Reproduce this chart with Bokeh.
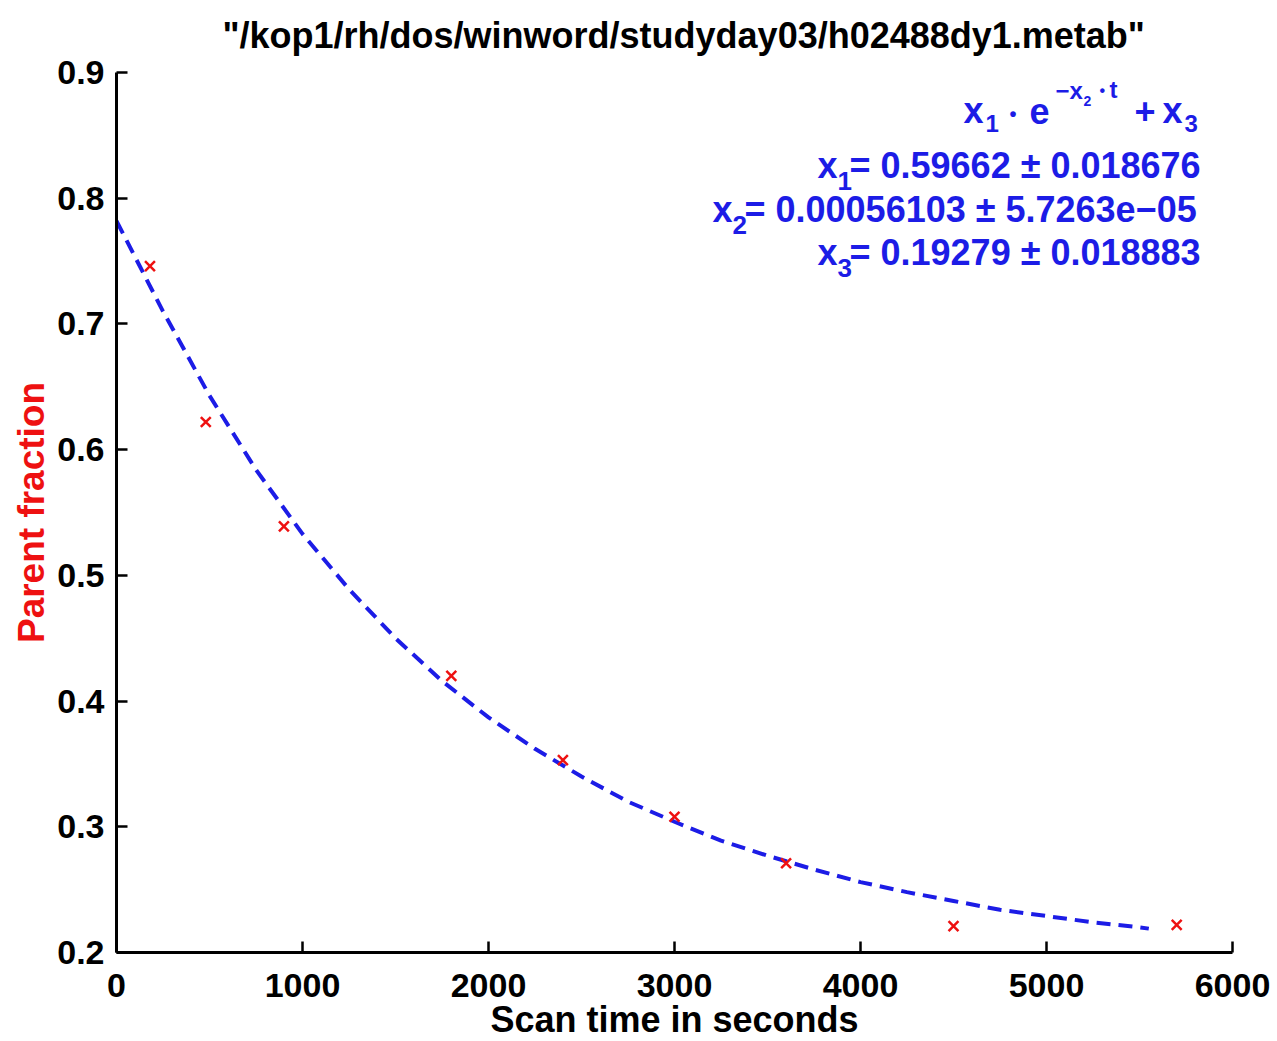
from bokeh.plotting import figure
from bokeh.models import Range1d, FixedTicker, Label, Title
from bokeh.embed import file_html
from bokeh.resources import INLINE

# ---- data ----
scan_time = [180, 480, 900, 1800, 2400, 3000, 3600, 4500, 5700]
parent_fraction = [0.746, 0.622, 0.539, 0.420, 0.353, 0.308, 0.271, 0.221, 0.222]

fit_time = [0, 250, 500, 750, 1000, 1250, 1500, 1750, 2000, 2250, 2500, 2750,
            3000, 3250, 3500, 3750, 4000, 4250, 4500, 4750, 5000, 5250, 5500, 5550]
fit_value = [0.782, 0.710, 0.643, 0.584, 0.533, 0.489, 0.450, 0.416, 0.387, 0.362,
             0.340, 0.320, 0.304, 0.289, 0.277, 0.266, 0.256, 0.248, 0.241, 0.234,
             0.229, 0.224, 0.220, 0.219]

x_ticks = [0, 1000, 2000, 3000, 4000, 5000, 6000]
x_tick_labels = ["0", "1000", "2000", "3000", "4000", "5000", "6000"]
y_ticks = [0.2, 0.3, 0.4, 0.5, 0.6, 0.7, 0.8, 0.9]
y_tick_labels = ["0.2", "0.3", "0.4", "0.5", "0.6", "0.7", "0.8", "0.9"]

title_text = '"/kop1/rh/dos/winword/studyday03/h02488dy1.metab"'
x_label = "Scan time in seconds"
y_label = "Parent fraction"
param_lines = [("1", "= 0.59662 \u00b1 0.018676"),
               ("2", "= 0.00056103 \u00b1 5.7263e\u221205"),
               ("3", "= 0.19279 \u00b1 0.018883")]

FONT = "Liberation Sans"
BLUE = "#1c1ce6"
RED = "#ee1111"

p = figure(width=1277, height=1041, output_backend="svg", toolbar_location=None,
           x_range=Range1d(0, 6000), y_range=Range1d(0.2, 0.9),
           min_border_left=116, min_border_right=45, min_border_top=72,
           min_border_bottom=88)
p.outline_line_color = None
p.grid.visible = False
p.background_fill_color = "white"
p.border_fill_color = "white"

p.title.text = title_text
p.title.text_font = FONT
p.title.text_font_size = "36px"
p.title.text_font_style = "bold"
p.title.text_color = "black"
p.title.align = "left"
p.title.offset = 106
p.title.vertical_align = "top"
p.title.standoff = 29

for ax in (p.xaxis[0], p.yaxis[0]):
    ax.axis_line_width = 3
    ax.axis_line_color = "black"
    ax.major_tick_in = 11
    ax.major_tick_out = 0
    ax.major_tick_line_width = 2.5
    ax.minor_tick_in = 0
    ax.minor_tick_out = 0
    ax.major_label_text_font = FONT
    ax.major_label_text_font_size = "34px"
    ax.major_label_text_font_style = "bold"
    ax.major_label_text_color = "black"
    ax.axis_label_text_font = FONT
    ax.axis_label_text_font_size = "37px"
    ax.axis_label_text_font_style = "bold"

p.xaxis.ticker = FixedTicker(ticks=x_ticks)
p.xaxis.major_label_overrides = dict(zip(x_ticks, x_tick_labels))
p.yaxis.ticker = FixedTicker(ticks=y_ticks)
p.yaxis.major_label_overrides = dict(zip(y_ticks, y_tick_labels))
p.xaxis.major_label_standoff = 21
p.yaxis.major_label_standoff = 12
p.yaxis.axis_label = y_label
p.yaxis.axis_label_standoff = 2
p.yaxis.axis_label_text_color = RED

# x axis title placed in the panel below the axis
p.add_layout(Title(text=x_label, align="center", vertical_align="top",
                   standoff=-1, offset=0, text_font=FONT, text_font_size="36px",
                   text_font_style="bold", text_color="black"), "below")

p.line(fit_time, fit_value, line_color=BLUE, line_width=4, line_dash="14 8")
p.scatter(scan_time, parent_fraction, marker="x", size=14, line_color=RED,
          line_width=2.5)

# frame: left edge at page x=116, bottom edge at page y=953
def put(text, left, baseline, size, align="left", color=BLUE):
    mid = baseline - 0.35 * size
    p.add_layout(Label(x=left - 116, y=953 - mid, x_units="screen",
                       y_units="screen", text=text, text_font=FONT,
                       text_font_size=f"{size}px", text_font_style="bold",
                       text_color=color, text_align=align,
                       text_baseline="middle"))

# model formula x1 . e^(-x2 . t) + x3
put("x", 963, 124, 36)
put("1", 985, 132, 24)
put("\u2022", 1009, 121, 20)
put("e", 1029, 124, 36)
put("\u2212x", 1055, 99, 24)
put("2", 1083, 106, 14)
put("\u2022", 1099, 97, 16)
put("t", 1109, 98, 24)
put("+", 1134, 124, 36)
put("x", 1162, 124, 36)
put("3", 1184, 132, 24)

rows = [(817, 179), (712, 223), (817, 266)]
for (sub, rest), (left, base) in zip(param_lines, rows):
    put("x", left, base, 36)
    put(sub, left + 20, base + 12, 26)
    put(rest, left + 32, base, 36)

open("out.html", "w").write(file_html(p, INLINE))
